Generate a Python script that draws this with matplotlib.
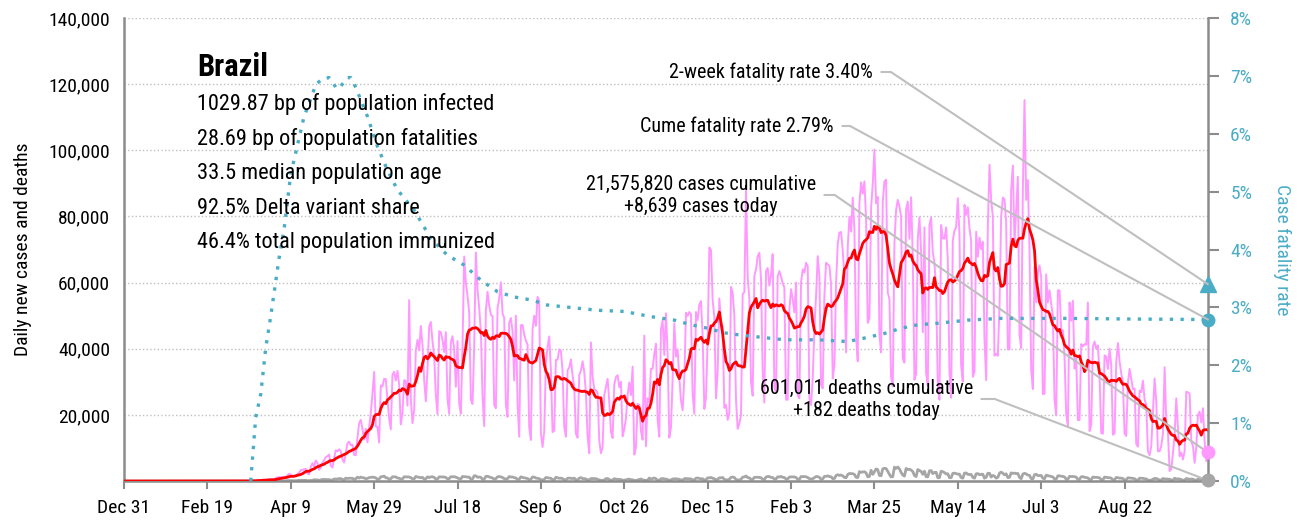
import numpy as np
import pandas as pd
import matplotlib
matplotlib.use('Agg')
import matplotlib.pyplot as plt
import matplotlib.dates as mdates
from matplotlib import font_manager
from matplotlib.ticker import FuncFormatter, MultipleLocator

# narrow face if one is around, otherwise condensed DejaVu
installed = {f.name for f in font_manager.fontManager.ttflist}
narrow = [n for n in ['Liberation Sans Narrow', 'Roboto Condensed', 'Open Sans Condensed'] if n in installed]
plt.rcParams['font.family'] = narrow[:1] + ['DejaVu Sans']
plt.rcParams['font.stretch'] = 'condensed'

country = 'Brazil'
info_lines = [
    '1029.87 bp of population infected',
    '28.69 bp of population fatalities',
    '33.5 median population age',
    '92.5% Delta variant share',
    '46.4% total population immunized',
]
total_cases = 21575820
total_deaths = 601011
cume_cfr = 2.79
two_week_cfr = 3.40

start = '2019-12-31'
# nothing reported from Dec 31 through Feb 29
quiet_days = 61

# daily new cases (thousands), one row per week, Sun..Sat, from Mar 1 2020
case_weeks = [
    [0.0, 0.0, 0.0, 0.0, 0.0, 0.01, 0.01],
    [0.01, 0.0, 0.01, 0.03, 0.02, 0.03, 0.06],
    [0.06, 0.04, 0.06, 0.11, 0.15, 0.26, 0.32],
    [0.23, 0.38, 0.34, 0.23, 0.48, 0.5, 0.5],
    [0.35, 0.32, 0.9, 1.1, 1.2, 1.1, 1.2],
    [0.9, 0.9, 1.7, 2.2, 1.9, 1.2, 1.4],
    [1.6, 2.1, 2.5, 3.3, 3.3, 3.6, 3.7],
    [2.3, 2.0, 4.3, 5.4, 4.4, 6.2, 5.5],
    [3.4, 4.0, 5.6, 6.3, 7.2, 7.5, 8.0],
    [4.6, 4.1, 6.9, 9.3, 9.0, 9.6, 9.0],
    [6.6, 5.6, 8.6, 11.4, 11.9, 10.8, 11.0],
    [7.9, 7.8, 13.1, 17.4, 18.5, 15.8, 12.5],
    [15.8, 11.7, 16.3, 20.6, 26.4, 33.0, 16.5],
    [16.4, 11.6, 28.9, 28.6, 30.9, 30.8, 24.6],
    [18.9, 15.6, 32.1, 33.0, 30.4, 33.3, 29.2],
    [17.1, 20.6, 30.5, 30.2, 22.8, 54.7, 24.7],
    [17.5, 21.4, 39.4, 42.7, 39.5, 46.9, 41.1],
    [30.5, 24.1, 33.8, 46.7, 48.1, 42.2, 37.9],
    [26.1, 20.2, 45.3, 45.0, 42.6, 39.0, 45.0],
    [24.8, 20.3, 41.9, 43.8, 39.9, 28.5, 42.3],
    [23.5, 20.3, 41.0, 67.9, 59.9, 55.9, 51.1],
    [24.6, 23.3, 40.8, 69.1, 57.8, 52.4, 45.4],
    [25.8, 16.6, 51.6, 57.2, 53.1, 50.2, 49.9],
    [23.0, 22.0, 52.2, 55.2, 60.1, 50.6, 49.4],
    [23.1, 19.4, 47.8, 49.3, 45.3, 30.4, 50.0],
    [23.4, 13.4, 47.1, 47.2, 44.2, 42.4, 41.3],
    [16.2, 12.4, 45.9, 50.0, 46.9, 55.7, 54.3],
    [14.5, 10.3, 15.0, 35.8, 40.6, 43.7, 33.5],
    [14.8, 15.2, 36.6, 36.7, 39.8, 39.4, 33.1],
    [16.4, 13.4, 33.5, 34.3, 36.8, 31.9, 28.4],
    [14.3, 13.1, 32.1, 33.4, 36.2, 33.0, 26.6],
    [13.5, 8.4, 41.9, 31.6, 27.8, 27.4, 26.7],
    [12.3, 8.4, 10.2, 25.9, 28.5, 30.9, 24.1],
    [14.9, 13.0, 29.2, 31.4, 32.0, 28.4, 30.0],
    [13.5, 15.7, 18.9, 26.1, 29.8, 26.0, 34.6],
    [8.0, 10.1, 23.3, 23.0, 15.1, 12.5, 44.0],
    [10.5, 25.0, 23.9, 34.0, 33.9, 38.3, 41.5],
    [18.6, 13.4, 45.9, 48.6, 38.1, 50.7, 38.3],
    [13.1, 16.2, 31.1, 47.7, 37.6, 39.8, 31.1],
    [24.4, 21.4, 31.1, 50.9, 49.9, 51.1, 50.4],
    [26.2, 20.3, 51.1, 48.7, 53.3, 54.4, 43.9],
    [21.8, 25.2, 42.7, 70.6, 69.8, 54.7, 49.5],
    [25.0, 33.0, 55.2, 48.0, 46.7, 22.1, 23.0],
    [18.5, 20.5, 58.7, 56.8, 50.0, 24.6, 15.8],
    [17.3, 20.0, 56.6, 57.0, 87.8, 62.0, 55.0],
    [29.8, 25.8, 62.0, 64.0, 68.0, 69.0, 61.0],
    [33.0, 23.7, 63.5, 64.4, 59.1, 62.3, 68.6],
    [28.3, 26.8, 61.9, 63.5, 61.8, 59.8, 58.5],
    [24.6, 24.6, 52.0, 58.0, 55.0, 51.0, 60.0],
    [26.0, 25.0, 60.0, 64.0, 63.0, 66.0, 65.0],
    [25.0, 23.0, 31.0, 46.0, 56.0, 68.0, 62.0],
    [29.0, 28.0, 56.0, 66.0, 65.5, 65.1, 59.5],
    [31.0, 35.0, 59.9, 71.7, 75.1, 75.3, 69.6],
    [62.0, 38.9, 70.8, 79.9, 75.4, 85.7, 76.2],
    [43.8, 36.2, 83.9, 90.3, 86.9, 90.6, 79.0],
    [47.8, 49.3, 82.5, 89.9, 100.2, 84.0, 85.9],
    [44.3, 38.9, 84.5, 90.6, 91.1, 57.0, 55.0],
    [31.4, 28.6, 72.0, 82.0, 85.0, 83.0, 80.0],
    [37.0, 35.8, 82.2, 84.5, 73.2, 85.8, 67.6],
    [30.6, 32.4, 73.2, 79.7, 69.4, 45.0, 76.7],
    [32.6, 28.9, 77.4, 79.7, 69.1, 66.0, 57.4],
    [28.9, 24.6, 77.4, 73.4, 73.3, 76.7, 67.0],
    [33.0, 25.2, 72.7, 75.7, 76.7, 85.5, 74.6],
    [34.9, 30.1, 83.5, 80.5, 82.8, 76.5, 72.6],
    [31.5, 33.1, 75.4, 67.8, 73.6, 70.1, 72.3],
    [43.0, 30.5, 77.0, 95.6, 85.0, 80.0, 37.9],
    [38.4, 37.9, 52.9, 80.0, 85.7, 85.1, 78.2],
    [39.8, 39.8, 88.0, 95.4, 72.0, 82.3, 92.0],
    [44.2, 40.1, 87.8, 115.2, 85.0, 91.0, 70.0],
    [33.7, 27.8, 64.9, 54.0, 63.0, 65.2, 61.6],
    [26.3, 26.4, 62.5, 54.0, 57.7, 53.6, 50.0],
    [24.6, 19.9, 57.7, 57.6, 45.6, 45.6, 37.6],
    [20.2, 16.8, 54.0, 48.5, 54.5, 34.0, 37.0],
    [18.4, 18.5, 41.4, 40.7, 41.4, 41.2, 54.0],
    [15.1, 17.0, 40.7, 42.2, 40.0, 41.0, 32.0],
    [14.5, 14.3, 38.0, 37.6, 33.9, 40.0, 35.0],
    [14.0, 14.4, 36.0, 41.7, 36.2, 32.5, 30.0],
    [14.4, 13.6, 29.6, 33.9, 30.9, 27.8, 28.0],
    [11.2, 10.4, 27.3, 26.9, 30.3, 24.7, 23.0],
    [9.0, 7.8, 10.6, 20.5, 31.0, 24.1, 9.0],
    [9.0, 10.6, 14.3, 34.4, 18.0, 14.8, 3.0],
    [3.6, 8.4, 14.1, 25.0, 16.0, 7.5, 8.6],
    [6.5, 9.0, 27.0, 26.8, 26.4, 12.0, 10.6],
    [5.5, 10.2, 20.0, 21.0, 17.7, 22.0, 12.0],
    [6.0, 8.639],
]

# daily new deaths, same layout
death_weeks = [
    [0, 0, 0, 0, 0, 0, 0],
    [0, 0, 0, 0, 0, 0, 0],
    [0, 0, 1, 3, 3, 7, 4],
    [7, 9, 12, 13, 20, 15, 22],
    [22, 42, 40, 60, 58, 60, 73],
    [54, 67, 133, 141, 115, 68, 80],
    [99, 105, 204, 204, 188, 217, 206],
    [115, 113, 166, 165, 407, 357, 346],
    [189, 338, 474, 449, 435, 428, 421],
    [275, 296, 600, 615, 610, 751, 730],
    [496, 396, 881, 749, 844, 824, 816],
    [485, 674, 1179, 888, 1188, 1001, 965],
    [653, 807, 1039, 1086, 1156, 1124, 956],
    [480, 623, 1262, 1349, 1473, 1005, 904],
    [525, 679, 1272, 1274, 1239, 909, 843],
    [612, 627, 1282, 1269, 1238, 1206, 1022],
    [641, 654, 1374, 1185, 1141, 990, 1109],
    [552, 692, 1280, 1038, 1252, 1290, 1091],
    [602, 620, 1254, 1223, 1220, 1214, 1071],
    [631, 733, 1300, 1261, 1322, 1163, 921],
    [716, 632, 1367, 1284, 1311, 1156, 1211],
    [555, 627, 1595, 1554, 1129, 1212, 1088],
    [541, 561, 1394, 1437, 1226, 1079, 905],
    [572, 703, 1274, 1352, 1262, 1060, 709],
    [620, 684, 1352, 1212, 1204, 1054, 892],
    [494, 555, 1271, 1085, 984, 855, 758],
    [366, 553, 1215, 1184, 888, 833, 682],
    [447, 310, 476, 1075, 983, 874, 814],
    [415, 381, 1113, 987, 829, 858, 739],
    [377, 363, 836, 869, 831, 729, 869],
    [335, 317, 863, 1031, 729, 733, 599],
    [363, 310, 754, 734, 754, 686, 543],
    [309, 201, 188, 309, 713, 754, 461],
    [230, 271, 716, 571, 502, 497, 432],
    [231, 263, 342, 510, 563, 394, 364],
    [190, 162, 313, 437, 610, 346, 253],
    [216, 224, 908, 573, 746, 915, 690],
    [190, 216, 676, 754, 635, 584, 396],
    [282, 302, 630, 638, 691, 587, 522],
    [272, 317, 697, 755, 694, 676, 654],
    [313, 376, 848, 908, 770, 672, 686],
    [279, 433, 964, 936, 1092, 823, 706],
    [328, 522, 968, 963, 1054, 483, 337],
    [348, 550, 1111, 1194, 1074, 462, 314],
    [293, 543, 1171, 1242, 1524, 1035, 962],
    [469, 483, 1110, 1131, 1151, 1060, 987],
    [551, 452, 1183, 1382, 1340, 1096, 1050],
    [592, 627, 1283, 1206, 1386, 1119, 1050],
    [595, 635, 1210, 1239, 1232, 1239, 1052],
    [524, 525, 1350, 1330, 1351, 1284, 1039],
    [713, 595, 682, 1023, 1367, 1324, 1105],
    [527, 639, 1386, 1428, 1541, 1337, 1279],
    [721, 778, 1641, 1910, 1699, 1800, 1555],
    [1086, 987, 1972, 2286, 2233, 2216, 1997],
    [1127, 1057, 2841, 2648, 2724, 2815, 2438],
    [1259, 1383, 3251, 2009, 2777, 3650, 3438],
    [1660, 1607, 3668, 3869, 3769, 2922, 1987],
    [1240, 1319, 4195, 3829, 4249, 3647, 2616],
    [1803, 1480, 3808, 3459, 3560, 3305, 2865],
    [1657, 1347, 3472, 3157, 2914, 2027, 2976],
    [1305, 1279, 3086, 3163, 2231, 2595, 2656],
    [983, 1024, 2966, 2811, 2550, 2145, 2202],
    [1024, 1001, 2311, 2383, 2245, 2087, 2071],
    [1036, 860, 2383, 2445, 2024, 1977, 1979],
    [1106, 860, 2173, 2245, 1912, 2012, 2049],
    [860, 1141, 2346, 2340, 1186, 1689, 1454],
    [873, 1106, 2378, 2693, 2344, 1882, 2176],
    [1025, 1130, 2468, 2311, 2392, 2240, 2301],
    [1082, 695, 2081, 2334, 2131, 1807, 1691],
    [739, 647, 1893, 2032, 1643, 1649, 1690],
    [830, 695, 1780, 1595, 1524, 1380, 1222],
    [581, 595, 1573, 1574, 1451, 1388, 1228],
    [542, 578, 1424, 1340, 1366, 1324, 1163],
    [464, 578, 1266, 1340, 1118, 1064, 910],
    [465, 462, 1209, 1102, 1104, 1072, 954],
    [389, 371, 1183, 1106, 1030, 988, 890],
    [320, 398, 1080, 1001, 868, 862, 769],
    [310, 413, 983, 924, 870, 802, 700],
    [271, 282, 843, 840, 818, 693, 621],
    [280, 233, 270, 527, 797, 734, 593],
    [265, 303, 758, 606, 637, 590, 523],
    [284, 292, 839, 630, 643, 597, 460],
    [230, 247, 758, 629, 530, 594, 541],
    [277, 196, 605, 542, 524, 487, 566],
    [255, 182],
]

# cumulative case fatality rate (%), read every few days
cfr_dates = ['2020-03-16', '2020-03-19', '2020-03-22', '2020-03-25', '2020-03-28',
             '2020-04-02', '2020-04-05', '2020-04-09', '2020-04-13', '2020-04-17',
             '2020-04-21', '2020-04-24', '2020-04-28', '2020-05-02', '2020-05-04',
             '2020-05-06', '2020-05-08', '2020-05-11', '2020-05-13', '2020-05-15',
             '2020-05-18', '2020-05-21', '2020-05-25', '2020-05-31', '2020-06-06',
             '2020-06-12', '2020-06-22', '2020-07-02', '2020-07-12', '2020-07-22',
             '2020-08-01', '2020-08-11', '2020-08-21', '2020-08-31', '2020-09-10',
             '2020-09-20', '2020-09-30', '2020-10-10', '2020-10-26', '2020-11-11',
             '2020-11-25', '2020-12-05', '2020-12-15', '2020-12-25', '2021-01-04',
             '2021-01-14', '2021-01-30', '2021-02-19', '2021-03-09', '2021-03-19',
             '2021-03-31', '2021-04-10', '2021-04-20', '2021-04-30', '2021-05-20',
             '2021-06-09', '2021-06-29', '2021-07-19', '2021-08-22', '2021-10-11']
cfr_pct = [0.0, 1.1, 1.5, 2.3, 2.85,
           3.85, 4.35, 5.3, 5.8, 6.3,
           6.6, 6.85, 6.95, 6.97, 6.9,
           6.8, 6.78, 6.9, 6.97, 6.97,
           6.8, 6.58, 6.3, 5.78, 5.37,
           5.03, 4.68, 4.19, 3.9, 3.73,
           3.47, 3.27, 3.18, 3.13, 3.04,
           3.01, 2.98, 2.95, 2.93, 2.84,
           2.78, 2.70, 2.64, 2.56, 2.52,
           2.49, 2.44, 2.44, 2.41, 2.47,
           2.55, 2.64, 2.70, 2.72, 2.78,
           2.81, 2.81, 2.81, 2.80, 2.79]

cases = np.concatenate([np.zeros(quiet_days)] + [np.array(w) for w in case_weeks]) * 1000
deaths = np.concatenate([np.zeros(quiet_days)] + [np.array(w, dtype=float) for w in death_weeks])
dates = pd.date_range(start, periods=len(cases), freq='D')
avg7 = pd.Series(cases).rolling(7, min_periods=1).mean()
cfr_x = pd.to_datetime(cfr_dates)

PINK = '#FF99FF'
RED = '#FF0000'
GRAY = '#A6A6A6'
TEAL = '#4BACC6'
AXIS = '#8C8C8C'
LEAD = '#BFBFBF'

fig = plt.figure(figsize=(13.12, 5.22), dpi=100)
ax = fig.add_axes([0.0945, 0.0785, 0.8262, 0.887])

ax.plot(dates, deaths, color=GRAY, lw=2, zorder=2)
ax.plot(dates, cases, color=PINK, lw=1.4, zorder=3)
ax.plot(dates, avg7, color=RED, lw=2, zorder=4)

ax.set_xlim(dates[0], dates[-1])
ax.set_ylim(0, 140000)
ax.set_yticks(np.arange(20000, 140001, 20000))
ax.yaxis.set_major_formatter(FuncFormatter(lambda v, p: f'{v:,.0f}'))
ax.yaxis.grid(True, ls=':', color=LEAD, lw=1)
ax.set_axisbelow(True)
ax.set_xticks(pd.date_range(start, periods=13, freq='50D'))
ax.xaxis.set_major_formatter(mdates.DateFormatter('%b %-d'))
ax.tick_params(axis='y', length=0, labelsize=14, pad=10)
ax.tick_params(axis='x', length=6, width=1.5, color=AXIS, labelsize=14, pad=7)
ax.set_ylabel('Daily new cases and deaths', fontsize=14, labelpad=12)
for side in ['top', 'right']:
    ax.spines[side].set_visible(False)
for side in ['left', 'bottom']:
    ax.spines[side].set_color(AXIS)
    ax.spines[side].set_linewidth(1.8)

ax2 = ax.twinx()
ax2.plot(cfr_x, cfr_pct, color=TEAL, lw=2.4, ls=(0, (1, 2.2)), zorder=5)
ax2.set_ylim(0, 8)
ax2.yaxis.set_major_locator(MultipleLocator(1))
ax2.yaxis.set_major_formatter(FuncFormatter(lambda v, p: f'{v:.0f}%'))
ax2.tick_params(axis='y', length=8, width=1.5, color=AXIS, labelcolor=TEAL, labelsize=14, pad=8)
ax2.set_ylabel('Case fatality rate', color=TEAL, fontsize=14, rotation=270, labelpad=28)
for side in ['top', 'left', 'bottom']:
    ax2.spines[side].set_visible(False)
ax2.spines['right'].set_color(AXIS)
ax2.spines['right'].set_linewidth(1.8)

last = mdates.date2num(dates[-1])
ax2.plot([last], [two_week_cfr], marker='^', ms=11, color=TEAL, clip_on=False, zorder=6)
ax2.plot([last], [cume_cfr], marker='o', ms=9, color=TEAL, clip_on=False, zorder=6)
ax2.plot([last], [cases[-1] / 140000 * 8], marker='o', ms=9, color=PINK, clip_on=False, zorder=6)
ax2.plot([last], [deaths[-1] / 140000 * 8], marker='o', ms=9, color=GRAY, clip_on=False, zorder=6)

# country name and stats block
fig.text(197 / 1312, 1 - 67 / 522, country, fontsize=22, fontweight='bold', va='center')
for i, line in enumerate(info_lines):
    fig.text(197 / 1312, 1 - (104 + 34.7 * i) / 522, line, fontsize=16, va='center')


def lead(text, xy_axes, xy_val, pos, angle_b):
    xy_axes.annotate(text, xy=(last, xy_val), xytext=pos, textcoords='figure pixels',
                     ha='right', va='center', fontsize=14.5, multialignment='center',
                     arrowprops=dict(arrowstyle='-', color=LEAD, lw=1.5, relpos=(1, 0.5),
                                     shrinkA=4, shrinkB=0,
                                     connectionstyle=f'angle,angleA=0,angleB={angle_b},rad=0'),
                     zorder=7)


lead(f'2-week fatality rate {two_week_cfr:.2f}%', ax2, two_week_cfr, (873, 522 - 72), -33.8)
lead(f'Cume fatality rate {cume_cfr:.2f}%', ax2, cume_cfr, (834, 522 - 126), -28.4)
lead(f'{total_cases:,} cases cumulative\n+{cases[-1]:,.0f} cases today', ax,
     cases[-1], (816, 522 - 195), -34.6)
lead(f'{total_deaths:,} deaths cumulative\n+{deaths[-1]:,.0f} deaths today', ax,
     deaths[-1], (973, 522 - 399), -20.9)

fig.savefig('out.png', dpi=100)
